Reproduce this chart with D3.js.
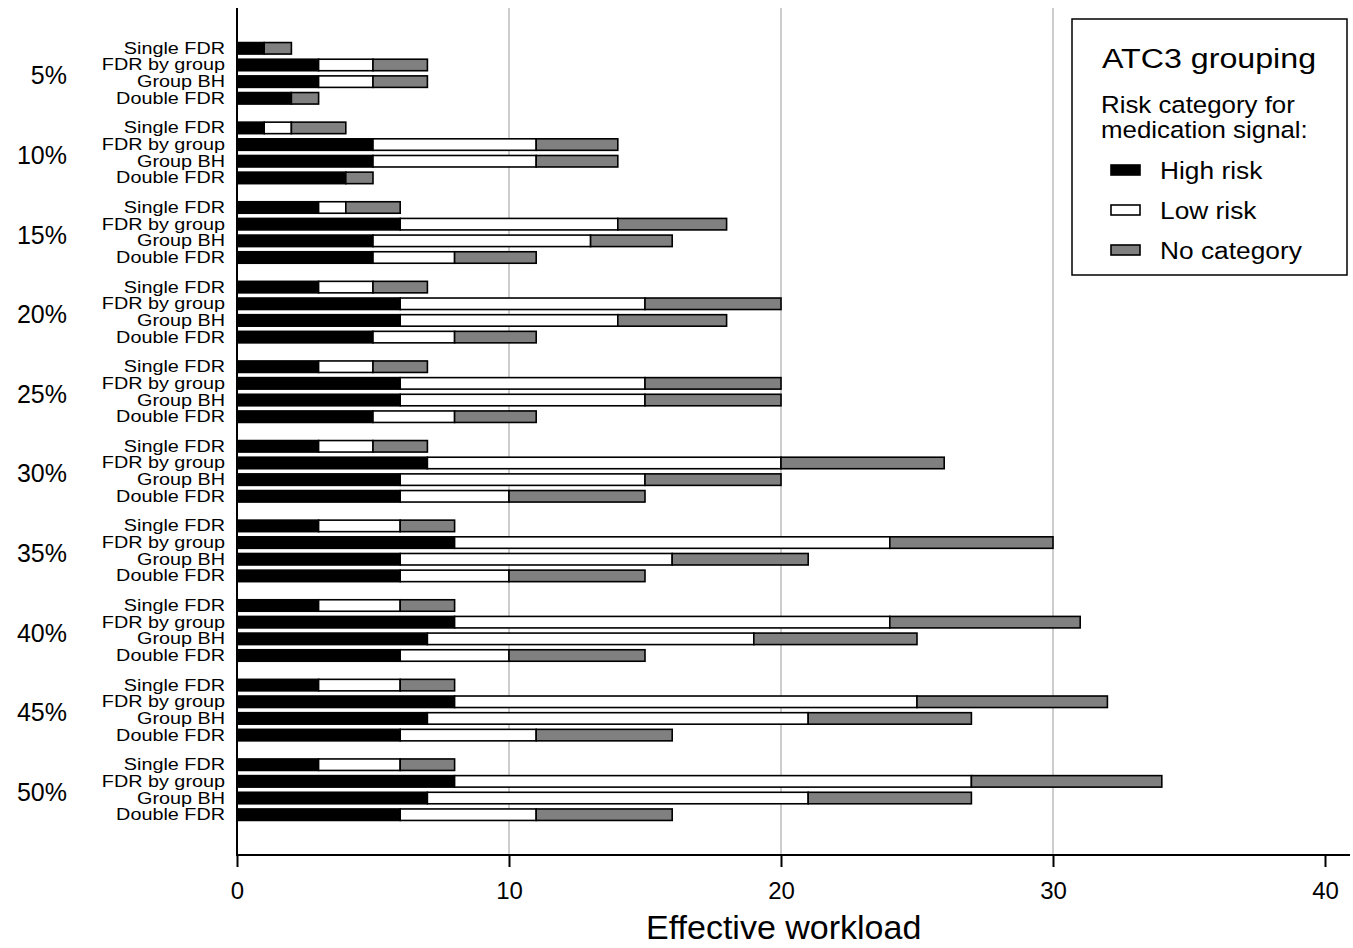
<html>
<head>
<script src="https://d3js.org/d3.v7.min.js"></script>
<style>
  body { margin: 0; background: #fff; }
  text { font-family: "Liberation Sans", Arial, sans-serif; fill: #000; }
</style>
</head>
<body>
<div id="chart"></div>
<script>
// FDR level groups and methods within each group
const levels = ["5%", "10%", "15%", "20%", "25%", "30%", "35%", "40%", "45%", "50%"];
const methods = ["Single FDR", "FDR by group", "Group BH", "Double FDR"];

// counts per level, in method order
const highRisk = [
  [1, 3, 3, 2], [1, 5, 5, 4], [3, 6, 5, 5], [3, 6, 6, 5], [3, 6, 6, 5],
  [3, 7, 6, 6], [3, 8, 6, 6], [3, 8, 7, 6], [3, 8, 7, 6], [3, 8, 7, 6]
];
const lowRisk = [
  [0, 2, 2, 0], [1, 6, 6, 0], [1, 8, 8, 3], [2, 9, 8, 3], [2, 9, 9, 3],
  [2, 13, 9, 4], [3, 16, 10, 4], [3, 16, 12, 4], [3, 17, 14, 5], [3, 19, 14, 5]
];
const noCategory = [
  [1, 2, 2, 1], [2, 3, 3, 1], [2, 4, 3, 3], [2, 5, 4, 3], [2, 5, 5, 3],
  [2, 6, 5, 5], [2, 6, 5, 5], [2, 7, 6, 5], [2, 7, 6, 5], [2, 7, 6, 5]
];

const xTicks = [0, 10, 20, 30, 40];
const gridTicks = [10, 20, 30];

const seriesNames = ["High risk", "Low risk", "No category"];
const seriesFill = ["#000000", "#ffffff", "#808080"];

const W = 1353, H = 948;
const plot = { left: 237, right: 1350, top: 8, bottom: 855 };

const svg = d3.select("#chart").append("svg")
  .attr("width", W).attr("height", H);

const x = d3.scaleLinear().domain([0, 40]).range([plot.left, 1325]);
const yGroup = d3.scalePoint().domain(levels).range([73.3, 789.7]);
const yInner = d3.scalePoint().domain(methods).range([-25, 25]);
const barH = 11.5;

// grid lines
svg.selectAll("line.grid")
  .data(gridTicks).enter().append("line")
  .attr("x1", d => x(d)).attr("x2", d => x(d))
  .attr("y1", plot.top).attr("y2", plot.bottom)
  .attr("stroke", "#9a9a9a").attr("stroke-width", 1);

// build flat rows of segments
const rows = [];
levels.forEach((lv, i) => {
  methods.forEach((m, j) => {
    const vals = [highRisk[i][j], lowRisk[i][j], noCategory[i][j]];
    let start = 0;
    vals.forEach((v, k) => {
      if (v > 0) rows.push({ level: lv, method: m, k: k, x0: start, x1: start + v });
      start += v;
    });
  });
});

svg.append("g").selectAll("rect")
  .data(rows).enter().append("rect")
  .attr("x", d => x(d.x0))
  .attr("width", d => x(d.x1) - x(d.x0))
  .attr("y", d => yGroup(d.level) + yInner(d.method) - barH / 2)
  .attr("height", barH)
  .attr("fill", d => seriesFill[d.k])
  .attr("stroke", "#000").attr("stroke-width", 1.6);

// method labels
const labelRows = [];
levels.forEach(lv => methods.forEach(m => labelRows.push({ level: lv, method: m })));
svg.append("g").selectAll("text")
  .data(labelRows).enter().append("text")
  .attr("transform", d => `translate(225,${yGroup(d.level) + yInner(d.method) + 5.5}) scale(1.2,1)`)
  .attr("text-anchor", "end")
  .style("font-size", "16.5px")
  .text(d => d.method);

// level labels
svg.append("g").selectAll("text")
  .data(levels).enter().append("text")
  .attr("x", 67)
  .attr("y", d => yGroup(d) + 11)
  .attr("text-anchor", "end")
  .style("font-size", "25px")
  .text(d => d);

// axes
svg.append("line")
  .attr("x1", plot.left).attr("x2", plot.left)
  .attr("y1", plot.top).attr("y2", plot.bottom)
  .attr("stroke", "#000").attr("stroke-width", 2);

const xAxis = svg.append("g")
  .attr("transform", `translate(0,${plot.bottom})`)
  .call(d3.axisBottom(x).tickValues(xTicks).tickSize(12).tickPadding(15));
xAxis.select(".domain").remove();
xAxis.selectAll(".tick line").attr("stroke", "#000").attr("stroke-width", 2);
xAxis.selectAll(".tick text")
  .style("font-size", "24px")
  .style("font-family", "'Liberation Sans', Arial, sans-serif")
  .attr("fill", "#000");
svg.append("line")
  .attr("x1", plot.left - 1).attr("x2", plot.right)
  .attr("y1", plot.bottom).attr("y2", plot.bottom)
  .attr("stroke", "#000").attr("stroke-width", 2);

svg.append("text")
  .attr("x", x(20.1)).attr("y", 939)
  .attr("text-anchor", "middle")
  .style("font-size", "34px")
  .text("Effective workload");

// legend
const lg = svg.append("g");
lg.append("rect")
  .attr("x", 1072).attr("y", 19).attr("width", 275).attr("height", 256)
  .attr("fill", "#fff").attr("stroke", "#000").attr("stroke-width", 1.5);
lg.append("text")
  .attr("transform", "translate(1209,68) scale(1.15,1)")
  .attr("text-anchor", "middle")
  .style("font-size", "28px")
  .text("ATC3 grouping");
["Risk category for", "medication signal:"].forEach((t, i) => {
  lg.append("text")
    .attr("transform", `translate(1101,${113 + i * 25}) scale(1.1,1)`)
    .style("font-size", "23.5px")
    .text(t);
});
const legY = d3.scalePoint().domain(seriesNames).range([170, 250]);
seriesNames.forEach((s, k) => {
  lg.append("rect")
    .attr("x", 1111).attr("y", legY(s) - 5).attr("width", 29).attr("height", 10)
    .attr("fill", seriesFill[k]).attr("stroke", "#000").attr("stroke-width", 1.6);
  lg.append("text")
    .attr("transform", `translate(1160,${legY(s) + 8.5}) scale(1.12,1)`)
    .style("font-size", "23.5px")
    .text(s);
});
</script>
</body>
</html>
